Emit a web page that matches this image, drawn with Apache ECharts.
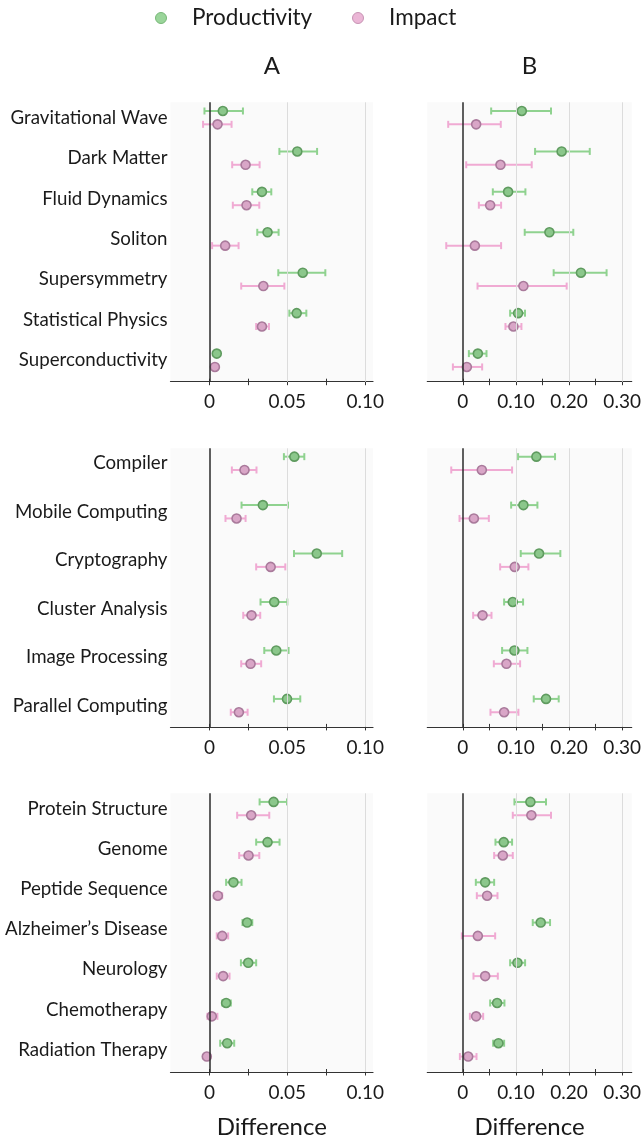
<!DOCTYPE html>
<html><head><meta charset="utf-8">
<script src="https://cdn.jsdelivr.net/npm/echarts@6/dist/echarts.min.js"></script>
<style>html,body{margin:0;padding:0;background:#fff}#c{width:644px;height:1140px}</style>
</head><body><div id="c"></div>
<script>
// ---------- categories ----------
const catsPhys = ['Gravitational Wave','Dark Matter','Fluid Dynamics','Soliton','Supersymmetry','Statistical Physics','Superconductivity'];
const catsCS = ['Compiler','Mobile Computing','Cryptography','Cluster Analysis','Image Processing','Parallel Computing'];
const catsBio = ['Protein Structure','Genome','Peptide Sequence','Alzheimer\u2019s Disease','Neurology','Chemotherapy','Radiation Therapy'];

// ---------- values: [estimate, CI low, CI high] ----------
const physA_prod = [[0.0086,-0.0032,0.0215],[0.0564,0.0449,0.0691],[0.0337,0.0275,0.0397],[0.0373,0.0307,0.0444],[0.0599,0.0442,0.0744],[0.056,0.0513,0.0622],[0.0047,0.0039,0.0055]];
const physA_imp  = [[0.0052,-0.0041,0.0142],[0.0232,0.0146,0.0322],[0.0238,0.015,0.032],[0.0101,0.0017,0.0187],[0.0346,0.0204,0.0481],[0.0337,0.03,0.0382],[0.0035,0.0023,0.0048]];
const physB_prod = [[0.111,0.0533,0.166],[0.186,0.136,0.239],[0.0852,0.0564,0.1178],[0.163,0.1165,0.208],[0.2224,0.171,0.2707],[0.104,0.089,0.117],[0.0282,0.0113,0.0445]];
const physB_imp  = [[0.025,-0.0276,0.0714],[0.0708,0.0063,0.1297],[0.0514,0.0301,0.072],[0.0226,-0.0313,0.072],[0.114,0.0276,0.1955],[0.0952,0.0802,0.1103],[0.0075,-0.0188,0.0363]];
const csA_prod = [[0.0545,0.0478,0.0609],[0.0343,0.0206,0.0504],[0.0689,0.0543,0.0852],[0.0416,0.0328,0.05],[0.0429,0.0352,0.0508],[0.0498,0.0414,0.0583]];
const csA_imp  = [[0.0225,0.0144,0.0302],[0.0174,0.0103,0.0232],[0.0393,0.03,0.0487],[0.027,0.0217,0.0326],[0.0264,0.0204,0.0332],[0.0189,0.0137,0.0245]];
const csB_prod = [[0.1385,0.104,0.1736],[0.114,0.0909,0.1404],[0.1435,0.109,0.1836],[0.094,0.0777,0.1134],[0.0971,0.0739,0.1216],[0.1566,0.1335,0.1805]];
const csB_imp  = [[0.0357,-0.0219,0.0927],[0.0207,-0.0063,0.0489],[0.0977,0.0702,0.1234],[0.037,0.0194,0.0539],[0.0821,0.0583,0.1078],[0.0777,0.052,0.1046]];
const bioA_prod = [[0.0412,0.0322,0.0498],[0.0373,0.03,0.045],[0.0154,0.0107,0.0206],[0.0242,0.0212,0.0275],[0.0249,0.0202,0.03],[0.0107,0.0082,0.0137],[0.0114,0.0069,0.0159]];
const bioA_imp  = [[0.0268,0.0178,0.0384],[0.0251,0.0191,0.032],[0.0054,0.0028,0.0082],[0.0082,0.0047,0.012],[0.0088,0.0047,0.0129],[0.0015,-0.0013,0.0051],[-0.0017,-0.0024,-0.001]];
const bioB_prod = [[0.1272,0.0971,0.1566],[0.077,0.0614,0.0927],[0.042,0.0244,0.0589],[0.1466,0.1316,0.1642],[0.1028,0.089,0.1172],[0.0645,0.0514,0.0783],[0.067,0.057,0.0777]];
const bioB_imp  = [[0.129,0.094,0.166],[0.0752,0.0589,0.094],[0.0457,0.0263,0.0652],[0.0282,-0.0019,0.0608],[0.042,0.02,0.0658],[0.025,0.0132,0.0382],[0.01,-0.0056,0.0257]];

// ---------- axis ticks / labels ----------
const ticksA = [0, 0.025, 0.05, 0.075, 0.1];
const labelsA = [0, 0.05, 0.1];
const gridLinesA = [0.05, 0.1];
const ticksB = [0, 0.05, 0.1, 0.15, 0.2, 0.25, 0.3];
const labelsB = [0, 0.1, 0.2, 0.3];
const gridLinesB = [0.1, 0.2, 0.3];
const panelTitles = ['A', 'B'];
const seriesNames = ['Productivity', 'Impact'];
const xTitle = 'Difference';

// ---------- styling ----------
const FONT = 'Lato, "DejaVu Sans", sans-serif';
const TXT = '#1a1a1a';
const PROD = {bar:'#8fd28f', fill:'#8bc78b', border:'#5f9b5f', legend:'#9ad59a', legendBorder:'#78b878'};
const IMP  = {bar:'#f0aad3', fill:'#d9a6c7', border:'#a97a9b', legend:'#ebb6d6', legendBorder:'#c794b4'};
const OFF = 6.67;

const rows = [
  {top:102.3, height:279.4, cats:catsPhys, ymin:-0.38, ymax:6.53, data:[[physA_prod, physA_imp],[physB_prod, physB_imp]]},
  {top:448.3, height:278.6, cats:catsCS,   ymin:-0.31, ymax:5.44, data:[[csA_prod, csA_imp],[csB_prod, csB_imp]]},
  {top:793.3, height:279.8, cats:catsBio,  ymin:-0.38, ymax:6.55, data:[[bioA_prod, bioA_imp],[bioB_prod, bioB_imp]]}
];
const cols = [
  {left:170.5, width:202.5, min:-0.025, max:0.105, ticks:ticksA, labels:labelsA, lines:gridLinesA},
  {left:427.3, width:204.4, min:-0.067, max:0.318, ticks:ticksB, labels:labelsB, lines:gridLinesB}
];
const fmt = v => (Math.abs(v) < 1e-9 ? '0' : v.toFixed(2));

function errRender(color, off) {
  return function (params, api) {
    const lo = api.coord([api.value(1), api.value(3)]);
    const hi = api.coord([api.value(2), api.value(3)]);
    const y = lo[1] + off, c = 3.5;
    const st = {stroke: color, lineWidth: 2};
    return {type:'group', children:[
      {type:'line', shape:{x1:lo[0], y1:y, x2:hi[0], y2:y}, style:st},
      {type:'line', shape:{x1:lo[0], y1:y-c, x2:lo[0], y2:y+c}, style:st},
      {type:'line', shape:{x1:hi[0], y1:y-c, x2:hi[0], y2:y+c}, style:st}
    ]};
  };
}

const grids = [], xAxes = [], yAxes = [], series = [];
rows.forEach((row, r) => {
  cols.forEach((col, c) => {
    const gi = grids.length;
    grids.push({left:col.left, width:col.width, top:row.top, height:row.height, show:true,
      backgroundColor:'#fafafa', borderWidth:0, containLabel:false});
    const xi = xAxes.length;
    xAxes.push({gridIndex:gi, type:'value', min:col.min, max:col.max, position:'bottom',
      axisLine:{show:true, onZero:false, lineStyle:{color:'#333', width:1.2}},
      axisTick:{show:true, customValues:col.ticks, length:3.5, lineStyle:{color:'#333', width:1}},
      axisLabel:{show:true, customValues:col.labels, formatter:fmt, margin:11, fontSize:19, fontFamily:FONT, color:TXT},
      splitLine:{show:false},
      name: r === rows.length - 1 ? xTitle : '', nameLocation:'middle', nameGap:43,
      nameTextStyle:{fontSize:24, fontFamily:FONT, color:TXT}
    });
    xAxes.push({gridIndex:gi, type:'value', min:col.min, max:col.max, position:'bottom',
      axisLine:{show:false, onZero:false},
      axisTick:{show:true, inside:true, customValues:col.ticks, length:3, lineStyle:{color:'#333', width:1}},
      axisLabel:{show:false}, splitLine:{show:false}
    });
    yAxes.push({gridIndex:gi, type:'value', inverse:true, min:row.ymin, max:row.ymax,
      axisLine:{show:false}, axisTick:{show:false}, splitLine:{show:false},
      axisLabel:{show:c === 0, customValues:row.cats.map((_, i) => i),
        formatter:v => row.cats[Math.round(v)], margin:3, fontSize:18.7, fontFamily:FONT, color:TXT}
    });
    const [prod, imp] = row.data[c];
    series.push({type:'custom', xAxisIndex:xi, yAxisIndex:gi, z:2, silent:true,
      data:prod.map((d, i) => [d[0], d[1], d[2], i]), encode:{x:[0,1,2], y:3},
      renderItem:errRender(PROD.bar, -OFF),
      markLine:{silent:true, symbol:'none', label:{show:false}, animation:false,
        data: col.lines.map(v => ({xAxis:v, lineStyle:{color:'#dcdcdc', width:1, type:'solid'}}))
          .concat([{xAxis:0, lineStyle:{color:'#2a2a2a', width:1.5, type:'solid'}}])}
    });
    series.push({type:'custom', xAxisIndex:xi, yAxisIndex:gi, z:2, silent:true,
      data:imp.map((d, i) => [d[0], d[1], d[2], i]), encode:{x:[0,1,2], y:3},
      renderItem:errRender(IMP.bar, OFF)
    });
    series.push({type:'scatter', name:seriesNames[0], xAxisIndex:xi, yAxisIndex:gi, z:3, silent:true,
      data:prod.map((d, i) => [d[0], i]), symbol:'circle', symbolSize:9, symbolOffset:[0, -OFF],
      itemStyle:{color:PROD.fill, borderColor:PROD.border, borderWidth:1.6, opacity:1}
    });
    series.push({type:'scatter', name:seriesNames[1], xAxisIndex:xi, yAxisIndex:gi, z:3, silent:true,
      data:imp.map((d, i) => [d[0], i]), symbol:'circle', symbolSize:9, symbolOffset:[0, OFF],
      itemStyle:{color:IMP.fill, borderColor:IMP.border, borderWidth:1.6, opacity:1}
    });
  });
});

const legendCommon = {top:5, padding:0, itemWidth:52, itemHeight:11, selectedMode:false,
  textStyle:{fontSize:22.5, fontFamily:FONT, color:TXT, lineHeight:26}};

const option = {
  animation:false,
  backgroundColor:'#ffffff',
  grid:grids, xAxis:xAxes, yAxis:yAxes, series:series,
  legend:[
    Object.assign({}, legendCommon, {left:155, data:[{name:seriesNames[0], icon:'circle',
      itemStyle:{color:PROD.legend, borderColor:PROD.legendBorder, borderWidth:1}}]}),
    Object.assign({}, legendCommon, {left:352, data:[{name:seriesNames[1], icon:'circle',
      itemStyle:{color:IMP.legend, borderColor:IMP.legendBorder, borderWidth:1}}]})
  ],
  graphic: cols.map((col, c) => ({type:'text', x:col.left + col.width / 2, y:66, silent:true,
    style:{text:panelTitles[c], align:'center', verticalAlign:'middle', fontSize:24, fontFamily:FONT, fill:TXT}}))
};

const chart = echarts.init(document.getElementById('c'), null, {renderer:'canvas'});
chart.setOption(option);
</script>
</body></html>
